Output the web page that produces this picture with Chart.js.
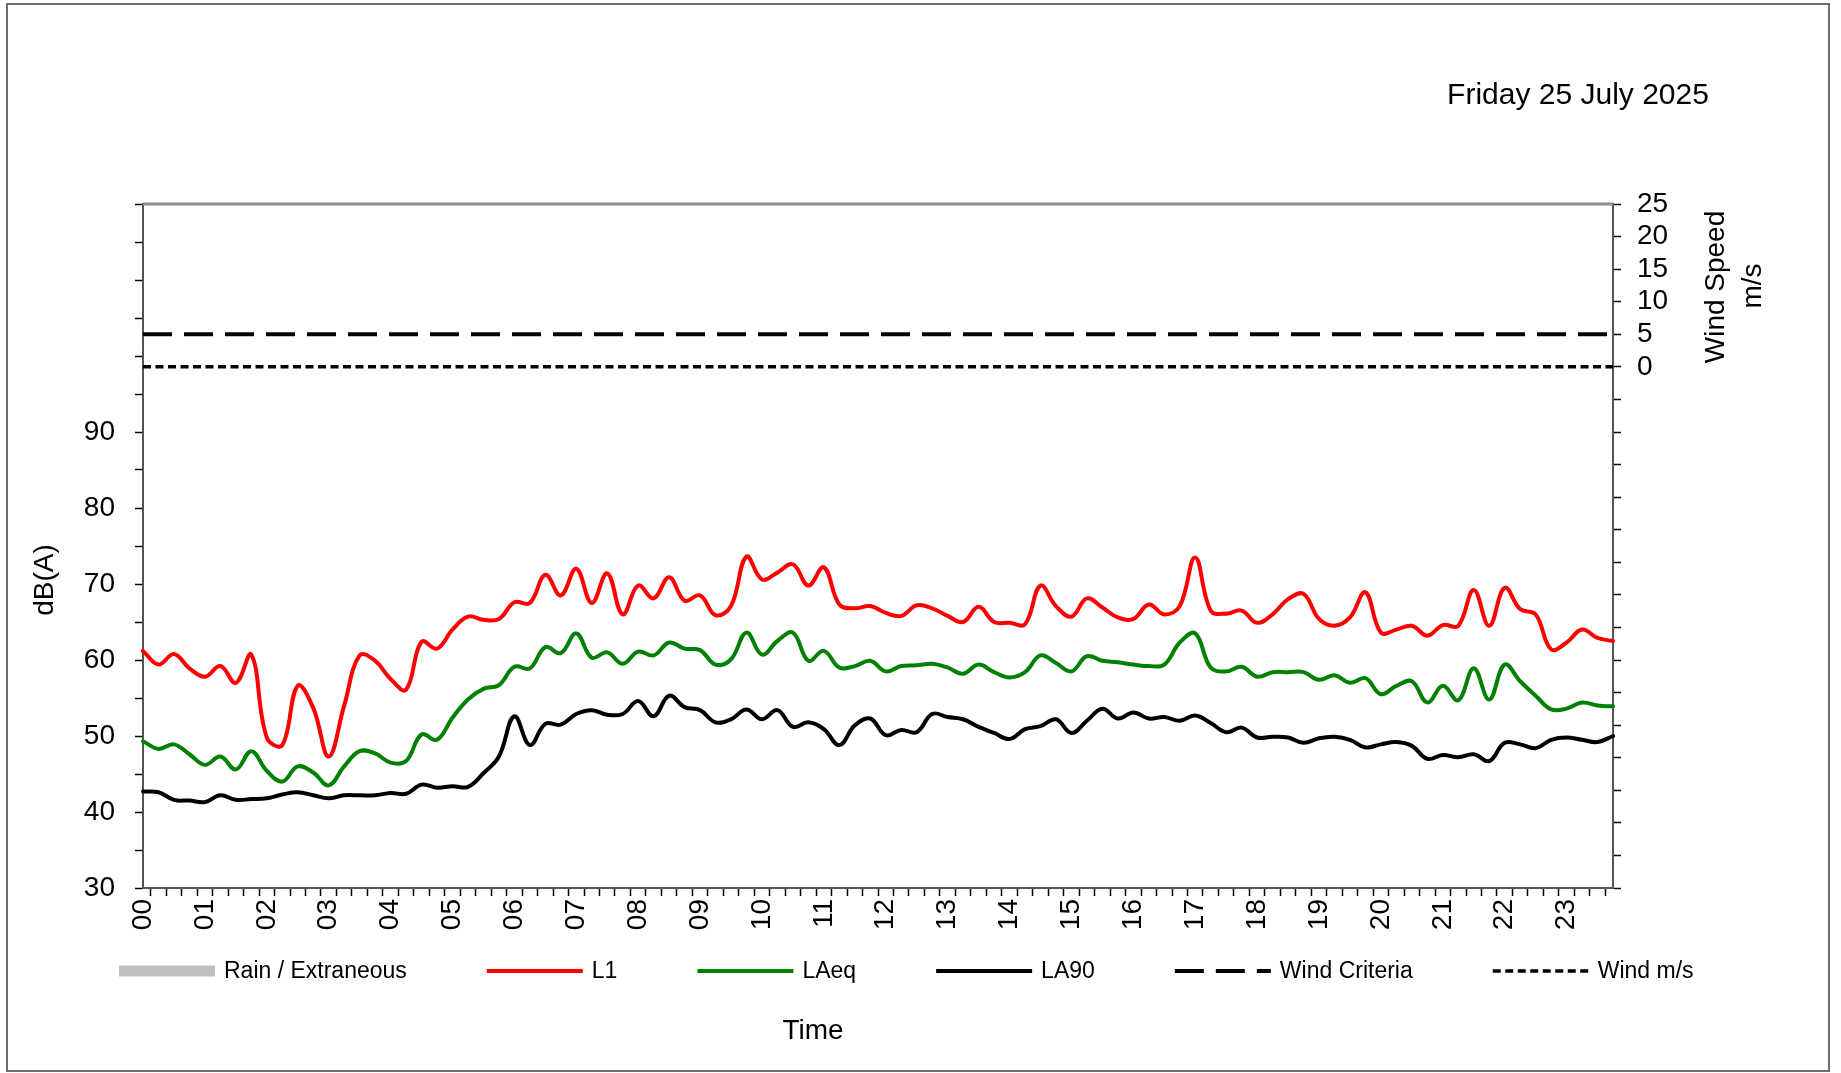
<!DOCTYPE html>
<html>
<head>
<meta charset="utf-8">
<title>Noise log - Friday 25 July 2025</title>
<script src="https://cdn.jsdelivr.net/npm/chart.js@4.4.1/dist/chart.umd.min.js"></script>
<style>
  html, body { margin: 0; padding: 0; background: #fff; overflow: hidden; }
  #wrap { position: relative; width: 1841px; height: 1073px; }
</style>
</head>
<body>
<div id="wrap"><canvas id="myChart"></canvas></div>
<script>
var dateTitle = 'Friday 25 July 2025';

// 15 minute intervals
var times = [
  '00:00','00:15','00:30','00:45','01:00','01:15','01:30','01:45',
  '02:00','02:15','02:30','02:45','03:00','03:15','03:30','03:45',
  '04:00','04:15','04:30','04:45','05:00','05:15','05:30','05:45',
  '06:00','06:15','06:30','06:45','07:00','07:15','07:30','07:45',
  '08:00','08:15','08:30','08:45','09:00','09:15','09:30','09:45',
  '10:00','10:15','10:30','10:45','11:00','11:15','11:30','11:45',
  '12:00','12:15','12:30','12:45','13:00','13:15','13:30','13:45',
  '14:00','14:15','14:30','14:45','15:00','15:15','15:30','15:45',
  '16:00','16:15','16:30','16:45','17:00','17:15','17:30','17:45',
  '18:00','18:15','18:30','18:45','19:00','19:15','19:30','19:45',
  '20:00','20:15','20:30','20:45','21:00','21:15','21:30','21:45',
  '22:00','22:15','22:30','22:45','23:00','23:15','23:30','23:45'
];

var l1 = [
  61.2, 59.4, 60.8, 58.9, 57.8, 59.2, 57.0, 60.7, 49.8, 48.8,
  56.6, 53.7, 47.3, 54.0, 60.6, 59.9, 57.5, 56.1, 62.4, 61.5,
  64.0, 65.7, 65.3, 65.4, 67.6, 67.5, 71.2, 68.5, 72.0, 67.5,
  71.4, 66.0, 69.8, 68.1, 70.9, 67.8, 68.5, 65.9, 67.1, 73.6,
  70.6, 71.5, 72.6, 69.8, 72.2, 67.3, 66.8, 67.1, 66.2, 65.8,
  67.2, 66.8, 65.8, 65.0, 67.0, 65.0, 64.9, 64.7, 69.8, 67.1,
  65.7, 68.1, 66.9, 65.6, 65.4, 67.3, 66.0, 67.1, 73.5, 66.5,
  66.1, 66.5, 64.9, 66.0, 68.0, 68.7, 65.4, 64.5, 65.6, 68.9,
  63.6, 64.0, 64.5, 63.2, 64.6, 64.5, 69.2, 64.5, 69.5, 66.7,
  66.0, 61.4, 62.3, 64.0, 62.9, 62.5
];

var laeq = [
  49.3, 48.3, 48.9, 47.6, 46.2, 47.3, 45.6, 48.0, 45.4, 44.0,
  46.0, 45.2, 43.5, 46.0, 48.0, 47.7, 46.5, 46.7, 50.2, 49.5,
  52.4, 54.8, 56.2, 56.7, 59.1, 58.9, 61.7, 60.9, 63.5, 60.3,
  61.0, 59.5, 61.1, 60.6, 62.3, 61.5, 61.3, 59.4, 60.1, 63.6,
  60.7, 62.5, 63.6, 59.9, 61.2, 59.0, 59.2, 59.9, 58.5, 59.2,
  59.3, 59.5, 59.0, 58.2, 59.4, 58.4, 57.7, 58.4, 60.6, 59.6,
  58.5, 60.5, 59.9, 59.7, 59.4, 59.2, 59.4, 62.3, 63.5, 59.0,
  58.5, 59.1, 57.8, 58.4, 58.4, 58.4, 57.4, 58.0, 57.0, 57.6,
  55.5, 56.6, 57.2, 54.4, 56.6, 54.7, 58.9, 54.8, 59.4, 57.2,
  55.3, 53.5, 53.6, 54.4, 54.0, 53.9
];

var la90 = [
  42.7, 42.6, 41.6, 41.5, 41.3, 42.2, 41.6, 41.7, 41.8, 42.3,
  42.6, 42.2, 41.8, 42.2, 42.2, 42.2, 42.5, 42.4, 43.6, 43.2,
  43.4, 43.3, 45.1, 47.3, 52.6, 48.8, 51.6, 51.5, 52.9, 53.4,
  52.8, 52.9, 54.6, 52.6, 55.3, 53.8, 53.4, 51.8, 52.2, 53.5,
  52.2, 53.4, 51.2, 51.8, 50.9, 48.8, 51.4, 52.3, 50.1, 50.8,
  50.5, 52.9, 52.5, 52.2, 51.2, 50.4, 49.6, 50.9, 51.3, 52.2,
  50.4, 52.0, 53.6, 52.3, 53.1, 52.3, 52.5, 52.0, 52.7, 51.7,
  50.5, 51.1, 49.8, 49.9, 49.8, 49.1, 49.7, 49.9, 49.5, 48.5,
  48.9, 49.2, 48.7, 47.0, 47.5, 47.2, 47.6, 46.7, 49.1, 48.9,
  48.4, 49.5, 49.8, 49.5, 49.2, 50.0
];

// no rain / extraneous periods on this day
var rain = [];

var windCriteria = [
  5,5,5,5,5,5,5,5,5,5,5,5,5,5,5,5,5,5,5,5,5,5,5,5,
  5,5,5,5,5,5,5,5,5,5,5,5,5,5,5,5,5,5,5,5,5,5,5,5,
  5,5,5,5,5,5,5,5,5,5,5,5,5,5,5,5,5,5,5,5,5,5,5,5,
  5,5,5,5,5,5,5,5,5,5,5,5,5,5,5,5,5,5,5,5,5,5,5,5
];

var windSpeed = [
  0,0,0,0,0,0,0,0,0,0,0,0,0,0,0,0,0,0,0,0,0,0,0,0,
  0,0,0,0,0,0,0,0,0,0,0,0,0,0,0,0,0,0,0,0,0,0,0,0,
  0,0,0,0,0,0,0,0,0,0,0,0,0,0,0,0,0,0,0,0,0,0,0,0,
  0,0,0,0,0,0,0,0,0,0,0,0,0,0,0,0,0,0,0,0,0,0,0,0
];

var FONT = '"Liberation Sans", Arial, sans-serif';
Chart.defaults.font.family = FONT;
Chart.defaults.color = '#000';

function rotText(ctx, txt, x, y) {
  ctx.save();
  ctx.translate(x, y);
  ctx.rotate(-Math.PI / 2);
  ctx.fillText(txt, 0, 0);
  ctx.restore();
}

// white sheet, frame, titles and the legend row
var sheetPlugin = {
  id: 'sheet',
  beforeDraw: function (chart) {
    var ctx = chart.ctx;
    ctx.save();
    ctx.fillStyle = '#fff';
    ctx.fillRect(0, 0, chart.width, chart.height);
    ctx.strokeStyle = '#6e6e6e';
    ctx.lineWidth = 2;
    ctx.strokeRect(7, 4, 1822, 1067);
    ctx.restore();
  },
  afterDraw: function (chart) {
    var ctx = chart.ctx, a = chart.chartArea;
    ctx.save();
    ctx.strokeStyle = '#8c8c8c';
    ctx.lineWidth = 3;
    ctx.beginPath();
    ctx.moveTo(a.left, a.top);
    ctx.lineTo(a.right, a.top);
    ctx.stroke();

    ctx.fillStyle = '#000';
    ctx.textBaseline = 'middle';
    ctx.textAlign = 'center';
    ctx.font = '30px ' + FONT;
    ctx.fillText(dateTitle, 1578, 96);
    ctx.font = '28px ' + FONT;
    ctx.fillText('Time', 813, 1031);
    rotText(ctx, 'dB(A)', 45, 580);
    rotText(ctx, 'Wind Speed', 1716, 287);
    rotText(ctx, 'm/s', 1753, 286);

    // legend
    var x = 119, y = 971;
    ctx.font = '23px ' + FONT;
    ctx.textAlign = 'left';
    chart.data.datasets.forEach(function (ds) {
      ctx.save();
      ctx.lineCap = 'butt';
      if (ds.type === 'bar') {
        ctx.strokeStyle = ds.backgroundColor;
        ctx.lineWidth = 11;
      } else {
        ctx.strokeStyle = ds.borderColor;
        ctx.lineWidth = ds.borderWidth;
        ctx.setLineDash(ds.borderDash || []);
      }
      ctx.beginPath();
      ctx.moveTo(x, y);
      ctx.lineTo(x + 96, y);
      ctx.stroke();
      ctx.restore();
      ctx.fillText(ds.label, x + 105, y + 1);
      x += 105 + ctx.measureText(ds.label).width + 80;
    });
    ctx.restore();
  }
};

var tickGrid = {
  drawOnChartArea: false,
  drawTicks: true,
  tickLength: 8,
  tickColor: '#000',
  tickWidth: 1.5
};

var ctx = document.getElementById('myChart').getContext('2d');
var myChart = new Chart(ctx, {
  type: 'line',
  data: {
    labels: times,
    datasets: [
      { type: 'bar', label: 'Rain / Extraneous', data: rain, backgroundColor: '#c0c0c0', yAxisID: 'y' },
      { label: 'L1', data: l1, borderColor: '#ff0000', borderWidth: 4, yAxisID: 'y' },
      { label: 'LAeq', data: laeq, borderColor: '#008000', borderWidth: 4, yAxisID: 'y' },
      { label: 'LA90', data: la90, borderColor: '#000000', borderWidth: 4, yAxisID: 'y' },
      { label: 'Wind Criteria', data: windCriteria, borderColor: '#000000', borderWidth: 4,
        borderDash: [29, 12], tension: 0, borderCapStyle: 'butt', yAxisID: 'y2' },
      { label: 'Wind m/s', data: windSpeed, borderColor: '#000000', borderWidth: 3.5,
        borderDash: [8, 4.5], tension: 0, borderCapStyle: 'butt', yAxisID: 'y2' }
    ]
  },
  options: {
    responsive: true,
    maintainAspectRatio: false,
    animation: false,
    layout: { padding: { top: 204, left: 0, right: 0, bottom: 0 } },
    elements: {
      point: { radius: 0 },
      line: { tension: 0.4, fill: false, borderCapStyle: 'round', borderJoinStyle: 'round' }
    },
    plugins: {
      legend: { display: false },
      tooltip: { enabled: false }
    },
    scales: {
      x: {
        type: 'category',
        offset: false,
        grid: tickGrid,
        border: { color: '#555', width: 2 },
        ticks: {
          autoSkip: false,
          maxRotation: 90,
          minRotation: 90,
          padding: 3,
          font: { size: 28 },
          callback: function (v, i) {
            var t = times[i];
            return t.slice(3) === '00' ? t.slice(0, 2) : '';
          }
        },
        afterFit: function (s) { s.height = 185; }
      },
      y: {
        position: 'left',
        min: 30,
        max: 120,
        grid: tickGrid,
        border: { color: '#555', width: 2 },
        ticks: {
          stepSize: 5,
          autoSkip: false,
          padding: 20,
          font: { size: 28 },
          callback: function (v) { return (v % 10 === 0 && v <= 90) ? v : ''; }
        },
        afterFit: function (s) { s.width = 143; }
      },
      y2: {
        position: 'right',
        min: -80,
        max: 25,
        grid: tickGrid,
        border: { color: '#555', width: 2 },
        ticks: {
          stepSize: 5,
          autoSkip: false,
          padding: 16,
          font: { size: 28 },
          callback: function (v) { return v >= 0 ? v : ''; }
        },
        afterFit: function (s) { s.width = 228; }
      }
    }
  },
  plugins: [sheetPlugin]
});
</script>
</body>
</html>
